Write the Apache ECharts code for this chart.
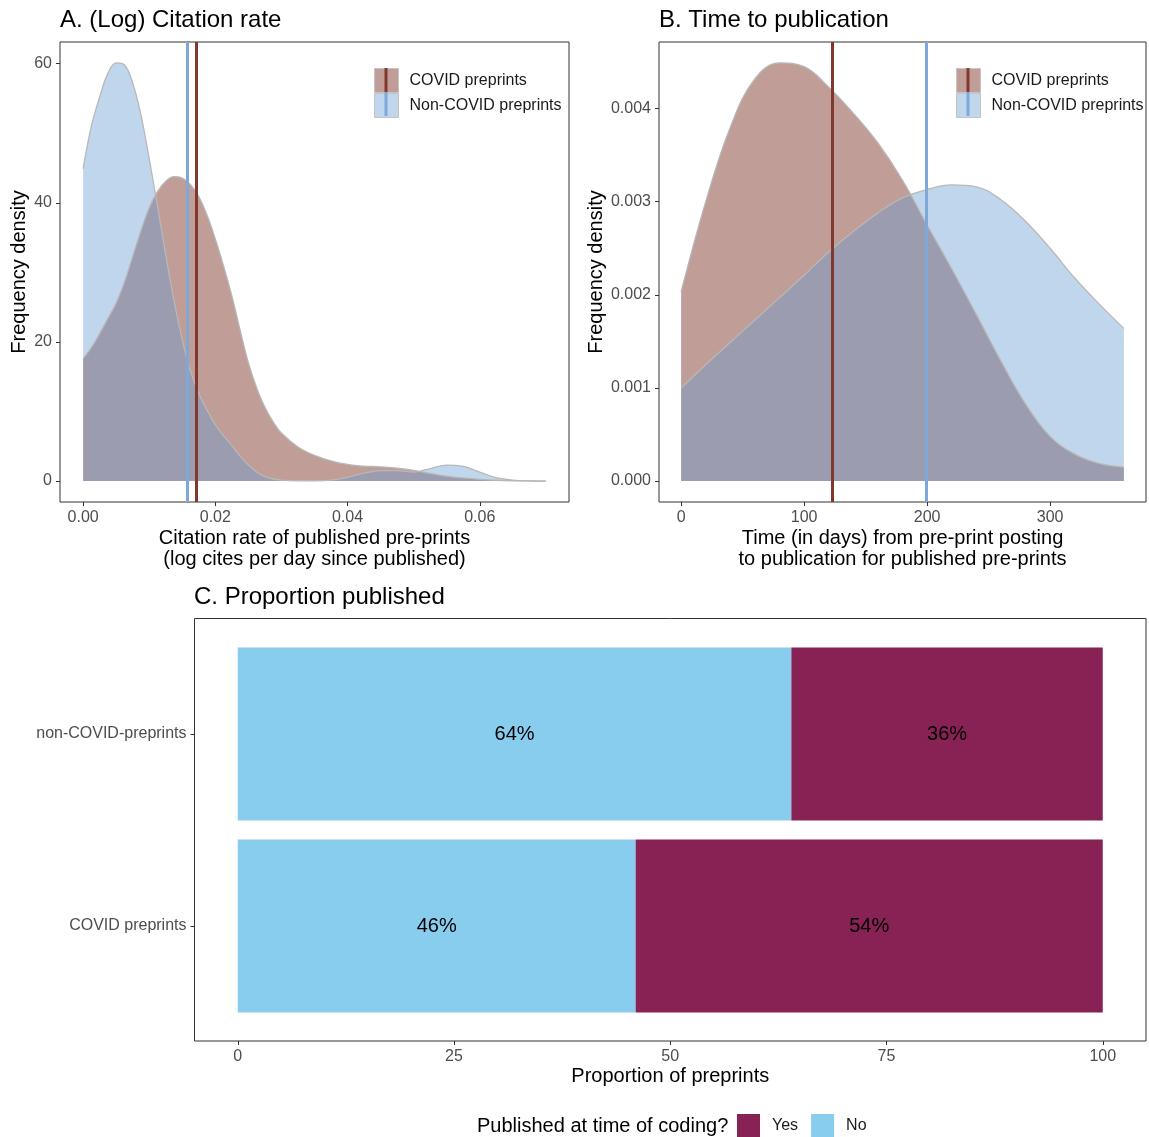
<!DOCTYPE html>
<html>
<head>
<meta charset="utf-8">
<script src="https://cdn.jsdelivr.net/npm/echarts@6/dist/echarts.min.js"></script>
<style>
  html, body { margin: 0; padding: 0; background: #ffffff; }
  #chart { width: 1149px; height: 1137px; }
</style>
</head>
<body>
<div id="chart"></div>
<script>
// ---- Panel A: density of (log) citation rate of published pre-prints ----
const citeX = [0, 0.00125, 0.0025, 0.00375, 0.005, 0.00625, 0.0075, 0.00875, 0.01, 0.01125,
  0.0125, 0.01375, 0.015, 0.01625, 0.0175, 0.01875, 0.02, 0.02125, 0.0225, 0.02375,
  0.025, 0.02625, 0.0275, 0.02875, 0.03, 0.0325, 0.035, 0.0375, 0.04, 0.0425,
  0.045, 0.0475, 0.05, 0.0525, 0.055, 0.0575, 0.06, 0.0625, 0.065, 0.0675, 0.07];
const citeCovid = [17.6, 19.2, 21.2, 23.4, 25.6, 28.6, 32.3, 36.0, 39.3, 41.6,
  43.1, 43.75, 43.55, 42.6, 40.9, 38.2, 34.8, 30.9, 26.6, 21.7,
  17.0, 13.4, 10.6, 8.5, 6.9, 4.9, 3.7, 2.9, 2.4, 2.15,
  2.05, 1.85, 1.55, 1.1, 0.7, 0.45, 0.25, 0.12, 0.05, 0.02, 0];
const citeNonCovid = [44.9, 51.0, 55.2, 58.6, 60.1, 59.8, 57.2, 52.6, 46.3, 39.5,
  32.5, 25.9, 20.3, 15.8, 12.6, 10.2, 8.1, 6.5, 5.1, 3.6,
  2.3, 1.3, 0.65, 0.3, 0.15, 0.05, 0.05, 0.15, 0.55, 1.15,
  1.5, 1.5, 1.3, 1.8, 2.3, 2.1, 1.3, 0.5, 0.15, 0.03, 0];
const citeMeanCovid = 0.0171;
const citeMeanNonCovid = 0.0158;
const citeXTicks = [0, 0.02, 0.04, 0.06];
const citeYTicks = [0, 20, 40, 60];

// ---- Panel B: days from pre-print posting to publication ----
const daysX = [0, 20, 40, 60, 80, 100, 120, 140, 160, 180, 200, 220, 240, 260, 280, 300, 320, 340, 360];
const daysCovid = [0.00203, 0.00300, 0.00380, 0.00432, 0.00449, 0.00445, 0.00423, 0.00395, 0.00363, 0.00323,
  0.00275, 0.00228, 0.00179, 0.00129, 0.00083, 0.00048, 0.00029, 0.00019, 0.00015];
const daysNonCovid = [0.00100, 0.00125, 0.00149, 0.00173, 0.00197, 0.00221, 0.00246, 0.00268, 0.00288, 0.00304,
  0.00313, 0.00318, 0.00316, 0.00302, 0.00279, 0.00250, 0.00218, 0.00190, 0.00164];
const daysMeanCovid = 123;
const daysMeanNonCovid = 199.5;
const daysXTicks = [0, 100, 200, 300];
const daysYTicks = [0, 0.001, 0.002, 0.003, 0.004];

// ---- Panel C: proportion published at time of coding ----
const groups = ['COVID preprints', 'non-COVID-preprints'];
const publishedYes = [54, 36];
const publishedNo = [46, 64];
const propTicks = [0, 25, 50, 75, 100];

// ---- styling ----
const FONT = "'Liberation Sans', Arial, Helvetica, sans-serif";
const covidFill = 'rgba(130, 60, 47, 0.5)';
const nonCovidFill = 'rgba(101, 155, 209, 0.41)';
const covidMean = '#80392c';
const nonCovidMean = '#7ea8d8';
const outline = '#b8b8b8';
const frame = '#333333';
const tickText = '#4d4d4d';
const yesColor = '#882255';
const noColor = '#88CCEE';

// ggplot-style 5% padding around the data range
function expand(lo, hi) {
  const pad = (hi - lo) * 0.05;
  return [lo - pad, hi + pad];
}
const citeXR = expand(Math.min(...citeX), Math.max(...citeX));
const citeYR = expand(0, Math.max(...citeCovid, ...citeNonCovid));
const daysXR = expand(Math.min(...daysX), Math.max(...daysX));
const daysYR = expand(0, Math.max(...daysCovid, ...daysNonCovid));

function valueAxis(idx, range, ticks, fmt, extra) {
  return Object.assign({
    type: 'value', gridIndex: idx, min: range[0], max: range[1],
    axisLine: { show: false, onZero: false },
    splitLine: { show: false },
    axisTick: { show: true, length: 4, customValues: ticks, lineStyle: { color: frame, width: 1 } },
    axisLabel: { show: true, customValues: ticks, formatter: fmt, fontSize: 16, color: tickText, fontFamily: FONT, margin: 8 },
    nameTextStyle: { fontSize: 20, color: '#000', fontFamily: FONT, lineHeight: 21 }
  }, extra || {});
}

function density(name, xs, ys, fill, idx, mean, meanColor) {
  return {
    type: 'line', name: name, xAxisIndex: idx, yAxisIndex: idx,
    data: xs.map((x, i) => [x, ys[i]]),
    smooth: 0.4, showSymbol: false, symbol: 'none',
    lineStyle: { color: outline, width: 1.3 },
    itemStyle: { color: fill },
    areaStyle: { color: fill, opacity: 1 },
    emphasis: { disabled: true },
    markLine: {
      silent: true, symbol: 'none', z: 5, animation: false, precision: 8,
      label: { show: false },
      lineStyle: { color: meanColor, width: 3, type: 'solid', opacity: 1 },
      data: [{ xAxis: mean }]
    }
  };
}

function densityLegend(left) {
  return {
    orient: 'vertical', left: left, top: 68, padding: 0, itemGap: 0,
    itemWidth: 24, itemHeight: 24, icon: 'rect', selectedMode: false,
    textStyle: { fontSize: 16, color: '#1a1a1a', fontFamily: FONT, padding: [0, 0, 0, 6] },
    data: [
      { name: 'COVID preprints', icon: 'rect', itemStyle: { color: covidFill, borderColor: '#c4c4c4', borderWidth: 1 } },
      { name: 'Non-COVID preprints', icon: 'rect', itemStyle: { color: nonCovidFill, borderColor: '#c4c4c4', borderWidth: 1 } }
    ]
  };
}

const titleStyle = { fontSize: 24, fontWeight: 'normal', color: '#000', fontFamily: FONT, lineHeight: 28 };

const option = {
  animation: false,
  backgroundColor: '#ffffff',
  textStyle: { fontFamily: FONT },
  title: [
    { text: 'A. (Log) Citation rate', left: 60, top: 6, padding: 0, textStyle: titleStyle },
    { text: 'B. Time to publication', left: 659, top: 6, padding: 0, textStyle: titleStyle },
    { text: 'C. Proportion published', left: 194, top: 583, padding: 0, textStyle: titleStyle },
    { text: 'Published at time of coding?', left: 477, top: 1114, padding: 0,
      textStyle: { fontSize: 20, fontWeight: 'normal', color: '#000', fontFamily: FONT, lineHeight: 24 } }
  ],
  legend: [
    densityLegend(374),
    densityLegend(956),
    {
      orient: 'horizontal', left: 737, top: 1114, padding: 0, itemGap: 13,
      itemWidth: 23, itemHeight: 23, icon: 'rect', selectedMode: false,
      textStyle: { fontSize: 16, color: '#1a1a1a', fontFamily: FONT, padding: [0, 0, 0, 7] },
      data: ['Yes', 'No']
    }
  ],
  grid: [
    { left: 60, top: 42, width: 509, height: 460, show: true, borderColor: frame, borderWidth: 1, backgroundColor: 'transparent' },
    { left: 659, top: 42, width: 487, height: 460, show: true, borderColor: frame, borderWidth: 1, backgroundColor: 'transparent' },
    { left: 194.5, top: 638, width: 951.5, height: 384 }
  ],
  xAxis: [
    valueAxis(0, citeXR, citeXTicks, v => v.toFixed(2), {
      name: 'Citation rate of published pre-prints\n(log cites per day since published)',
      nameLocation: 'middle', nameGap: 26
    }),
    valueAxis(1, daysXR, daysXTicks, v => String(Math.round(v)), {
      name: 'Time (in days) from pre-print posting\nto publication for published pre-prints',
      nameLocation: 'middle', nameGap: 26
    }),
    valueAxis(2, [-5, 105], propTicks, v => String(Math.round(v)), {
      name: 'Proportion of preprints', nameLocation: 'middle', nameGap: 24, offset: 19
    })
  ],
  yAxis: [
    valueAxis(0, citeYR, citeYTicks, v => String(Math.round(v)), {
      name: 'Frequency density', nameLocation: 'middle', nameRotate: 90, nameGap: 30
    }),
    valueAxis(1, daysYR, daysYTicks, v => v.toFixed(3), {
      name: 'Frequency density', nameLocation: 'middle', nameRotate: 90, nameGap: 51
    }),
    {
      type: 'category', gridIndex: 2, data: groups,
      axisLine: { show: false, onZero: false },
      axisTick: { show: true, alignWithLabel: true, length: 4, lineStyle: { color: frame } },
      axisLabel: { fontSize: 16, color: tickText, fontFamily: FONT, margin: 8 },
      splitLine: { show: false }
    }
  ],
  series: [
    density('COVID preprints', citeX, citeCovid, covidFill, 0, citeMeanCovid, covidMean),
    density('Non-COVID preprints', citeX, citeNonCovid, nonCovidFill, 0, citeMeanNonCovid, nonCovidMean),
    density('COVID preprints', daysX, daysCovid, covidFill, 1, daysMeanCovid, covidMean),
    density('Non-COVID preprints', daysX, daysNonCovid, nonCovidFill, 1, daysMeanNonCovid, nonCovidMean),
    {
      type: 'bar', name: 'No', stack: 'share', xAxisIndex: 2, yAxisIndex: 2,
      data: publishedNo, barWidth: '90%',
      itemStyle: { color: noColor },
      label: { show: true, position: 'inside', formatter: p => p.value + '%', fontSize: 20, color: '#000', fontFamily: FONT },
      emphasis: { disabled: true }
    },
    {
      type: 'bar', name: 'Yes', stack: 'share', xAxisIndex: 2, yAxisIndex: 2,
      data: publishedYes, barWidth: '90%',
      itemStyle: { color: yesColor },
      label: { show: true, position: 'inside', formatter: p => p.value + '%', fontSize: 20, color: '#000', fontFamily: FONT },
      emphasis: { disabled: true }
    }
  ],
  graphic: [
    // mean markers inside the density legend keys
    { type: 'line', z: 100, shape: { x1: 386, y1: 68, x2: 386, y2: 92 }, style: { stroke: covidMean, lineWidth: 3 } },
    { type: 'line', z: 100, shape: { x1: 386, y1: 92, x2: 386, y2: 116 }, style: { stroke: nonCovidMean, lineWidth: 3 } },
    { type: 'line', z: 100, shape: { x1: 968, y1: 68, x2: 968, y2: 92 }, style: { stroke: covidMean, lineWidth: 3 } },
    { type: 'line', z: 100, shape: { x1: 968, y1: 92, x2: 968, y2: 116 }, style: { stroke: nonCovidMean, lineWidth: 3 } },
    // panel border for the proportion chart
    { type: 'rect', z: 100, shape: { x: 194.5, y: 618.5, width: 951.5, height: 422.5 }, style: { fill: 'transparent', stroke: frame, lineWidth: 1 } }
  ]
};

const chart = echarts.init(document.getElementById('chart'), null, { renderer: 'canvas' });
chart.setOption(option);
</script>
</body>
</html>
